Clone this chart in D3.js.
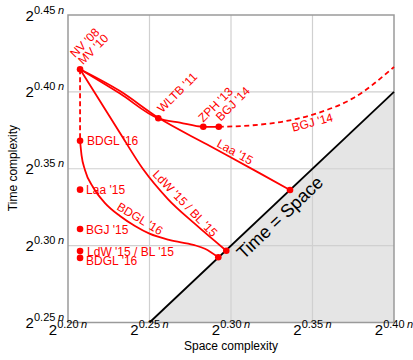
<html>
<head>
  <script src="https://d3js.org/d3.v7.min.js"></script>
  <style>
    body { margin: 0; background: #fff; }
    text { font-family: "Liberation Sans", Arial, sans-serif; }
  </style>
</head>
<body>
<svg id="chart" width="413" height="360"></svg>
<script>

// axis ticks (exponent of 2^(c n))
const xTicks = [0.20, 0.25, 0.30, 0.35, 0.40];
const yTicks = [0.25, 0.30, 0.35, 0.40, 0.45];
const xTickLabels = ["0.20", "0.25", "0.30", "0.35", "0.40"];
const yTickLabels = ["0.25", "0.30", "0.35", "0.40", "0.45"];

// tradeoff curves, [space, time]
const curveZPH = [[0.2074,0.4147],[0.2319,0.3989],[0.2554,0.3828],[0.2687,0.3800],[0.2830,0.3773],[0.2925,0.3773]];
const curveBGJ14 = [[0.2925,0.3773],[0.3135,0.3783],[0.3342,0.3811],[0.3546,0.3867],[0.3748,0.3958],[0.4000,0.4162]];
const curveLaa = [[0.2074,0.4147],[0.2319,0.4005],[0.2555,0.3831],[0.2851,0.3659],[0.3178,0.3470],[0.3362,0.3362]];
const curveLdW = [[0.2074,0.4147],[0.2196,0.3941],[0.2319,0.3733],[0.2460,0.3498],[0.2613,0.3303],[0.2779,0.3141],[0.2971,0.2967]];
const curveBDGL = [[0.2074,0.3682],[0.2083,0.3589],[0.2104,0.3492],[0.2153,0.3381],[0.2227,0.3277],[0.2319,0.3193],[0.2411,0.3128],[0.2500,0.3078],[0.2626,0.3036],[0.2769,0.3005],[0.2840,0.2980],[0.2922,0.2924]];
const dashNV = [[0.2074,0.4147],[0.2074,0.3682]];
const diagonal = [[0.25,0.25],[0.40,0.40]];

// marked results
const pointNames = ["NV","WLTB '11","ZPH '13","BGJ '14","Laa end","LdW end","BDGL end","BDGL '16","Laa '15","BGJ '15","LdW '15 / BL '15","BDGL '16 s"];
const pointX = [0.2074,0.2554,0.2830,0.2925,0.3362,0.2971,0.2922,0.2074,0.2074,0.2074,0.2074,0.2074];
const pointY = [0.4147,0.3828,0.3773,0.3773,0.3362,0.2967,0.2924,0.3682,0.3364,0.3108,0.2965,0.2920];

const red = "#ff0000";
const svg = d3.select("#chart");
const x = d3.scaleLinear().domain([0.20, 0.40]).range([68, 394]);
const y = d3.scaleLinear().domain([0.25, 0.45]).range([322.5, 15]);

// shaded region below time = space
svg.append("path")
  .attr("d", d3.line()([[x(0.25), y(0.25)], [x(0.40), y(0.40)], [x(0.40), y(0.25)]]) + "Z")
  .attr("fill", "#e5e5e5");

// grid
svg.append("g").selectAll("line").data(xTicks.slice(1, -1)).join("line")
  .attr("x1", d => x(d)).attr("x2", d => x(d))
  .attr("y1", y(0.25)).attr("y2", y(0.45))
  .attr("stroke", "#d0d0d0").attr("stroke-width", 1.2);
svg.append("g").selectAll("line").data(yTicks.slice(1, -1)).join("line")
  .attr("y1", d => y(d)).attr("y2", d => y(d))
  .attr("x1", x(0.20)).attr("x2", x(0.40))
  .attr("stroke", "#d0d0d0").attr("stroke-width", 1.2);

// frame
svg.append("rect")
  .attr("x", x(0.20)).attr("y", y(0.45))
  .attr("width", x(0.40) - x(0.20)).attr("height", y(0.25) - y(0.45))
  .attr("fill", "none").attr("stroke", "#9a9a9a").attr("stroke-width", 1.5);

// tick labels
function powLabel(sel, txt) {
  sel.append("tspan").text("2").attr("font-size", 15);
  sel.append("tspan").text(txt).attr("font-size", 11).attr("dy", -7);
  sel.append("tspan").text("n").attr("font-size", 11).attr("font-style", "italic").attr("dx", 2.5);
}
svg.append("g").selectAll("text").data(xTicks).join("text")
  .attr("x", d => x(d)).attr("y", 334.5)
  .attr("text-anchor", "middle").attr("fill", "#000")
  .each(function(d, i) { powLabel(d3.select(this), xTickLabels[i]); });
svg.append("g").selectAll("text").data(yTicks).join("text")
  .attr("x", 64).attr("y", d => y(d) + 5.5)
  .attr("text-anchor", "end").attr("fill", "#000")
  .each(function(d, i) { powLabel(d3.select(this), yTickLabels[i]); });

svg.append("text").attr("x", 231).attr("y", 350).attr("text-anchor", "middle")
  .attr("font-size", 12).text("Space complexity");
svg.append("text").attr("transform", "translate(17,168) rotate(-90)").attr("text-anchor", "middle")
  .attr("font-size", 12).text("Time complexity");

// time = space
const line = d3.line().x(d => x(d[0])).y(d => y(d[1]));
svg.append("path").attr("d", line(diagonal))
  .attr("stroke", "#000").attr("stroke-width", 1.8).attr("fill", "none");
const ang = Math.atan2(y(0.40) - y(0.25), x(0.40) - x(0.25)) * 180 / Math.PI;
svg.append("text").attr("transform", `translate(284,222) rotate(${ang})`)
  .attr("text-anchor", "middle").attr("font-size", 18).attr("fill", "#000")
  .text("Time = Space");

// curves
const curve = d3.line().x(d => x(d[0])).y(d => y(d[1])).curve(d3.curveMonotoneX);
[curveZPH, curveLaa, curveLdW, curveBDGL].forEach(c => {
  svg.append("path").attr("d", curve(c))
    .attr("stroke", red).attr("stroke-width", 1.8).attr("fill", "none");
});
svg.append("path").attr("d", curve(curveBGJ14))
  .attr("stroke", red).attr("stroke-width", 1.8).attr("fill", "none")
  .attr("stroke-dasharray", "5,3.5");
svg.append("path").attr("d", line(dashNV))
  .attr("stroke", red).attr("stroke-width", 1.8).attr("fill", "none")
  .attr("stroke-dasharray", "5,3");

// points
svg.append("g").selectAll("circle").data(pointX).join("circle")
  .attr("cx", d => x(d)).attr("cy", (d, i) => y(pointY[i]))
  .attr("r", 3.3).attr("fill", red);

// labels
function lab(px, py, rot, txt) {
  svg.append("text").attr("transform", `translate(${px},${py}) rotate(${rot})`)
    .attr("font-size", 12).attr("fill", red).text(txt);
}
const P = i => [x(pointX[i]), y(pointY[i])];
lab(P(0)[0] - 5, P(0)[1] - 11, -45, "NV '08");
lab(P(0)[0] + 3, P(0)[1] - 4, -45, "MV '10");
lab(P(1)[0] + 4, P(1)[1] - 5, -45, "WLTB '11");
lab(P(2)[0] + 0, P(2)[1] - 4, -45, "ZPH '13");
lab(P(3)[0] + 2, P(3)[1] - 5, -45, "BGJ '14");
lab(x(0.3380), y(0.3740), -15, "BGJ '14");
lab(x(0.2908), y(0.3648), 29, "Laa '15");
lab(x(0.2515), y(0.3459), 46, "LdW '15 / BL '15");
lab(x(0.2294), y(0.3238), 31, "BDGL '16");
lab(P(7)[0] + 7, P(7)[1] + 4.5, 0, "BDGL '16");
lab(P(8)[0] + 6, P(8)[1] + 4.5, 0, "Laa '15");
lab(P(9)[0] + 6, P(9)[1] + 4.5, 0, "BGJ '15");
lab(P(10)[0] + 7, P(10)[1] + 4.5, 0, "LdW '15 / BL '15");
lab(P(11)[0] + 6, P(11)[1] + 7.5, 0, "BDGL '16");

</script>
</body>
</html>
